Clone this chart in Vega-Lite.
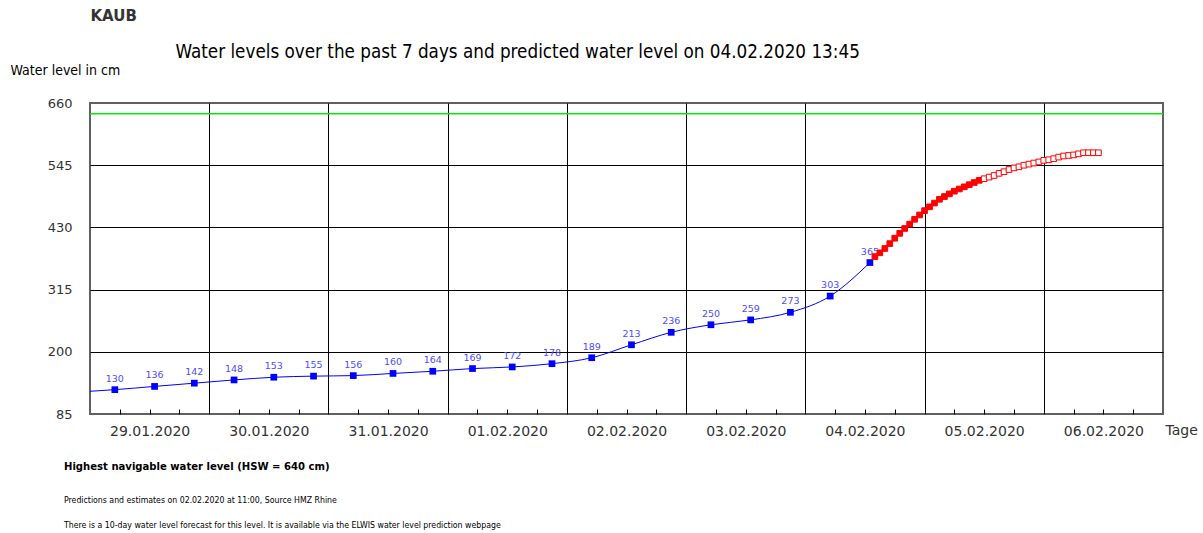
{
  "$schema": "https://vega.github.io/schema/vega-lite/v6.json",
  "width": 1073,
  "height": 311,
  "autosize": {"type": "none"},
  "padding": {"left": 90, "top": 103, "right": 40, "bottom": 119},
  "background": "white",
  "title": {
    "text": "Highest navigable water level (HSW = 640 cm)",
    "subtitle": ["Predictions and estimates on 02.02.2020 at 11:00, Source HMZ Rhine", "There is a 10-day water level forecast for this level. It is available via the ELWIS water level prediction webpage"],
    "orient": "bottom",
    "anchor": "start",
    "frame": "group",
    "dx": -26,
    "offset": 23,
    "font": "'Liberation Sans Narrow', 'DejaVu Sans Condensed', 'Liberation Sans', sans-serif",
    "fontSize": 11.2,
    "fontWeight": "bold",
    "color": "#000000",
    "subtitleFont": "'Liberation Sans Narrow', 'DejaVu Sans Condensed', 'Liberation Sans', sans-serif",
    "subtitleFontSize": 8.7,
    "subtitleColor": "#000000",
    "subtitleLineHeight": 25,
    "subtitlePadding": 24
  },
  "datasets": {
    "obs": [
      {"t": "2020-01-29T00:00:00Z", "v": 127, "lab": ""},
      {"t": "2020-01-29T05:00:00Z", "v": 130, "lab": "130"},
      {"t": "2020-01-29T13:00:00Z", "v": 136, "lab": "136"},
      {"t": "2020-01-29T21:00:00Z", "v": 142, "lab": "142"},
      {"t": "2020-01-30T05:00:00Z", "v": 148, "lab": "148"},
      {"t": "2020-01-30T13:00:00Z", "v": 153, "lab": "153"},
      {"t": "2020-01-30T21:00:00Z", "v": 155, "lab": "155"},
      {"t": "2020-01-31T05:00:00Z", "v": 156, "lab": "156"},
      {"t": "2020-01-31T13:00:00Z", "v": 160, "lab": "160"},
      {"t": "2020-01-31T21:00:00Z", "v": 164, "lab": "164"},
      {"t": "2020-02-01T05:00:00Z", "v": 169, "lab": "169"},
      {"t": "2020-02-01T13:00:00Z", "v": 172, "lab": "172"},
      {"t": "2020-02-01T21:00:00Z", "v": 178, "lab": "178"},
      {"t": "2020-02-02T05:00:00Z", "v": 189, "lab": "189"},
      {"t": "2020-02-02T13:00:00Z", "v": 213, "lab": "213"},
      {"t": "2020-02-02T21:00:00Z", "v": 236, "lab": "236"},
      {"t": "2020-02-03T05:00:00Z", "v": 250, "lab": "250"},
      {"t": "2020-02-03T13:00:00Z", "v": 259, "lab": "259"},
      {"t": "2020-02-03T21:00:00Z", "v": 273, "lab": "273"},
      {"t": "2020-02-04T05:00:00Z", "v": 303, "lab": "303"},
      {"t": "2020-02-04T13:00:00Z", "v": 365, "lab": "365"}
    ],
    "fc": [
      {"t": "2020-02-04T14:00:00Z", "v": 376, "kind": "filled"},
      {"t": "2020-02-04T15:00:00Z", "v": 383, "kind": "filled"},
      {"t": "2020-02-04T16:00:00Z", "v": 391, "kind": "filled"},
      {"t": "2020-02-04T17:00:00Z", "v": 400, "kind": "filled"},
      {"t": "2020-02-04T18:00:00Z", "v": 410, "kind": "filled"},
      {"t": "2020-02-04T19:00:00Z", "v": 419, "kind": "filled"},
      {"t": "2020-02-04T20:00:00Z", "v": 428, "kind": "filled"},
      {"t": "2020-02-04T21:00:00Z", "v": 436, "kind": "filled"},
      {"t": "2020-02-04T22:00:00Z", "v": 445, "kind": "filled"},
      {"t": "2020-02-04T23:00:00Z", "v": 453, "kind": "filled"},
      {"t": "2020-02-05T00:00:00Z", "v": 461, "kind": "filled"},
      {"t": "2020-02-05T01:00:00Z", "v": 468, "kind": "filled"},
      {"t": "2020-02-05T02:00:00Z", "v": 475, "kind": "filled"},
      {"t": "2020-02-05T03:00:00Z", "v": 482, "kind": "filled"},
      {"t": "2020-02-05T04:00:00Z", "v": 487, "kind": "filled"},
      {"t": "2020-02-05T05:00:00Z", "v": 492, "kind": "filled"},
      {"t": "2020-02-05T06:00:00Z", "v": 497, "kind": "filled"},
      {"t": "2020-02-05T07:00:00Z", "v": 501, "kind": "filled"},
      {"t": "2020-02-05T08:00:00Z", "v": 505, "kind": "filled"},
      {"t": "2020-02-05T09:00:00Z", "v": 509, "kind": "filled"},
      {"t": "2020-02-05T10:00:00Z", "v": 513, "kind": "filled"},
      {"t": "2020-02-05T11:00:00Z", "v": 517, "kind": "filled"},
      {"t": "2020-02-05T12:00:00Z", "v": 520, "kind": "hollow"},
      {"t": "2020-02-05T13:00:00Z", "v": 523, "kind": "hollow"},
      {"t": "2020-02-05T14:00:00Z", "v": 526, "kind": "hollow"},
      {"t": "2020-02-05T15:00:00Z", "v": 530, "kind": "hollow"},
      {"t": "2020-02-05T16:00:00Z", "v": 533, "kind": "hollow"},
      {"t": "2020-02-05T17:00:00Z", "v": 537, "kind": "hollow"},
      {"t": "2020-02-05T18:00:00Z", "v": 540, "kind": "hollow"},
      {"t": "2020-02-05T19:00:00Z", "v": 542, "kind": "hollow"},
      {"t": "2020-02-05T20:00:00Z", "v": 545, "kind": "hollow"},
      {"t": "2020-02-05T21:00:00Z", "v": 547, "kind": "hollow"},
      {"t": "2020-02-05T22:00:00Z", "v": 549, "kind": "hollow"},
      {"t": "2020-02-05T23:00:00Z", "v": 551, "kind": "hollow"},
      {"t": "2020-02-06T00:00:00Z", "v": 554, "kind": "hollow"},
      {"t": "2020-02-06T01:00:00Z", "v": 555, "kind": "hollow"},
      {"t": "2020-02-06T02:00:00Z", "v": 557, "kind": "hollow"},
      {"t": "2020-02-06T03:00:00Z", "v": 560, "kind": "hollow"},
      {"t": "2020-02-06T04:00:00Z", "v": 562, "kind": "hollow"},
      {"t": "2020-02-06T05:00:00Z", "v": 563, "kind": "hollow"},
      {"t": "2020-02-06T06:00:00Z", "v": 564, "kind": "hollow"},
      {"t": "2020-02-06T07:00:00Z", "v": 566, "kind": "hollow"},
      {"t": "2020-02-06T08:00:00Z", "v": 568, "kind": "hollow"},
      {"t": "2020-02-06T09:00:00Z", "v": 568, "kind": "hollow"},
      {"t": "2020-02-06T10:00:00Z", "v": 568, "kind": "hollow"},
      {"t": "2020-02-06T11:00:00Z", "v": 568, "kind": "hollow"}
    ]
  },
  "resolve": {"axis": {"x": "independent", "y": "independent"}},
  "layer": [
    {
      "data": {"name": "obs"},
      "mark": {"type": "line", "color": "#0000ff", "strokeWidth": 1, "interpolate": "monotone"},
      "encoding": {
        "x": {
          "field": "t", "type": "temporal",
          "scale": {"type": "utc", "domain": [1580256000000, 1581033600000], "nice": false},
          "axis": {
            "orient": "bottom",
            "values": [1580256000000, 1580277600000, 1580299200000, 1580320800000, 1580342400000, 1580364000000, 1580385600000, 1580407200000, 1580428800000, 1580450400000, 1580472000000, 1580493600000, 1580515200000, 1580536800000, 1580558400000, 1580580000000, 1580601600000, 1580623200000, 1580644800000, 1580666400000, 1580688000000, 1580709600000, 1580731200000, 1580752800000, 1580774400000, 1580796000000, 1580817600000, 1580839200000, 1580860800000, 1580882400000, 1580904000000, 1580925600000, 1580947200000, 1580968800000, 1580990400000, 1581012000000, 1581033600000],
            "grid": true,
            "gridColor": "#000000",
            "gridWidth": 1,
            "gridOpacity": {"condition": {"test": "utchours(datum.value) == 0 && +datum.value > 1580256000000 && +datum.value < 1581033600000", "value": 1}, "value": 0},
            "ticks": true,
            "tickColor": "#000000",
            "tickSize": -5,
            "tickOpacity": {"condition": {"test": "utchours(datum.value) == 0", "value": 0}, "value": 1},
            "labelExpr": "utchours(datum.value) == 12 ? utcFormat(datum.value, '%d.%m.%Y') : ''",
            "labelFont": "DejaVu Sans",
            "labelFontSize": 14,
            "labelColor": "#333333",
            "labelPadding": 15,
            "labelFlush": false,
            "labelOverlap": false,
            "labelBound": false,
            "domain": false,
            "title": "Tage",
            "titleX": 1075,
            "titleY": 16,
            "titleAlign": "left",
            "titleBaseline": "middle",
            "titleFont": "DejaVu Sans",
            "titleFontSize": 14,
            "titleFontWeight": "normal",
            "titleColor": "#333333"
          }
        },
        "y": {
          "field": "v", "type": "quantitative",
          "scale": {"domain": [85, 660], "nice": false, "zero": false},
          "axis": {
            "orient": "left",
            "values": [85, 200, 315, 430, 545, 660],
            "grid": true,
            "gridColor": "#000000",
            "gridOpacity": {"condition": {"test": "datum.value == 85 || datum.value == 660", "value": 0}, "value": 1},
            "ticks": false,
            "domain": false,
            "labelFont": "DejaVu Sans",
            "labelFontSize": 13,
            "labelColor": "#333333",
            "labelPadding": 18,
            "title": "Water level in cm",
            "titleAngle": 0,
            "titleAlign": "left",
            "titleBaseline": "alphabetic",
            "titleX": -80,
            "titleY": -29,
            "titleFont": "'Liberation Sans Narrow', 'DejaVu Sans Condensed', 'Liberation Sans', sans-serif",
            "titleFontSize": 14,
            "titleFontWeight": "normal",
            "titleColor": "#000000"
          }
        }
      }
    },
    {
      "data": {"name": "obs"},
      "transform": [{"filter": "datum.lab != ''"}],
      "mark": {"type": "square", "size": 45, "color": "#0000ff", "filled": true, "opacity": 1},
      "encoding": {
        "x": {
          "field": "t", "type": "temporal",
          "axis": {"orient": "top", "labels": false, "ticks": false, "domain": false, "grid": false,
            "title": "Water levels over the past 7 days and predicted water level on 04.02.2020 13:45",
            "titleX": 85, "titleY": -46, "titleAlign": "left", "titleBaseline": "alphabetic",
            "titleFont": "'Liberation Sans Narrow', 'DejaVu Sans Condensed', 'Liberation Sans', sans-serif", "titleFontSize": 18.7, "titleFontWeight": "normal", "titleColor": "#000000"}
        },
        "y": {
          "field": "v", "type": "quantitative",
          "axis": {"orient": "right", "labels": false, "ticks": false, "domain": false, "grid": false,
            "title": "KAUB", "titleAngle": 0, "titleAlign": "left", "titleBaseline": "alphabetic",
            "titleX": -1073, "titleY": -83,
            "titleFont": "DejaVu Sans", "titleFontSize": 15, "titleFontWeight": "bold", "titleColor": "#333333"}
        }
      }
    },
    {
      "data": {"name": "obs"},
      "transform": [{"filter": "datum.lab != ''"}],
      "mark": {"type": "text", "dy": -11, "font": "DejaVu Sans", "fontSize": 9.5, "color": "#4d4dff", "baseline": "middle", "align": "center"},
      "encoding": {
        "x": {"field": "t", "type": "temporal", "axis": null},
        "y": {"field": "v", "type": "quantitative", "axis": null},
        "text": {"field": "lab"}
      }
    },
    {
      "data": {"name": "fc"},
      "mark": {"type": "square", "size": 32, "filled": true, "stroke": "#ff0000", "strokeWidth": 1, "opacity": 1},
      "encoding": {
        "x": {"field": "t", "type": "temporal", "axis": null},
        "y": {"field": "v", "type": "quantitative", "axis": null},
        "fill": {"field": "kind", "type": "nominal", "scale": {"domain": ["filled", "hollow"], "range": ["#ff0000", "#ffffff"]}, "legend": null}
      }
    },
    {
      "data": {"values": [{"hsw": 640}]},
      "mark": {"type": "rule", "color": "#00ee00", "strokeWidth": 1.5},
      "encoding": {
        "y": {"field": "hsw", "type": "quantitative", "axis": null}
      }
    }
  ],
  "config": {
    "view": {"stroke": "#606060", "strokeWidth": 2}
  }
}
